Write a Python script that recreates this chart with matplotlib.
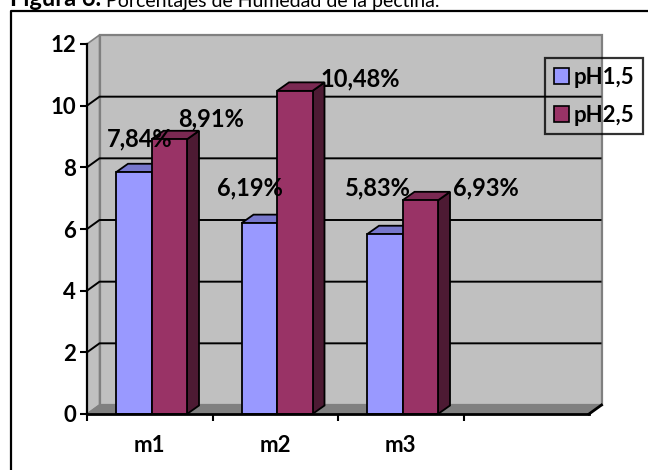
import matplotlib
matplotlib.use("Agg")
import matplotlib.pyplot as plt
from matplotlib.lines import Line2D
from matplotlib.patches import Patch, Polygon

categories = ["m1", "m2", "m3"]
series_names = ["pH1,5", "pH2,5"]
ph15 = [7.84, 6.19, 5.83]
ph25 = [8.91, 10.48, 6.93]
labels15 = ["7,84%", "6,19%", "5,83%"]
labels25 = ["8,91%", "10,48%", "6,93%"]
yticks = [0, 2, 4, 6, 8, 10, 12]

W, H = 648, 470
N_SLOTS = 4  # the original chart keeps an empty fourth category

plt.rcParams["font.family"] = ["Lato", "DejaVu Sans"]

fig = plt.figure(figsize=(W / 100, H / 100), dpi=100)
ax = fig.add_axes([87 / W, 1 - 414 / H, (589 - 87) / W, (414 - 44) / H])
ax.set_xlim(-0.5, N_SLOTS - 0.5)
ax.set_ylim(0, 12)
ax.patch.set_visible(False)

# pixel -> data conversion for the fake 3d depth
px_x = (589 - 87) / N_SLOTS
px_y = (414 - 44) / 12
wx, wy = 12.5 / px_x, 9 / px_y   # wall depth
bx, by = 12 / px_x, 8.5 / px_y   # bar depth
x0, x1 = -0.5, N_SLOTS - 0.5

wall = "#c0c0c0"
edge = "#808080"

# back wall, side wall, floor
ax.add_patch(Polygon([(x0 + wx, wy), (x1 + wx, wy), (x1 + wx, 12 + wy), (x0 + wx, 12 + wy)],
                     fc=wall, ec=edge, lw=1.6, zorder=0, clip_on=False))
ax.add_patch(Polygon([(x0, 0), (x0 + wx, wy), (x0 + wx, 12 + wy), (x0, 12)],
                     fc=wall, ec=edge, lw=1.2, zorder=0, clip_on=False))
ax.add_patch(Polygon([(x0, 0), (x1, 0), (x1 + wx, wy), (x0 + wx, wy)],
                     fc=edge, ec=edge, lw=1, zorder=0.5, clip_on=False))

for y in yticks[1:-1]:
    ax.plot([x0, x0 + wx, x1 + wx], [y, y + wy, y + wy], color="black", lw=1.4,
            zorder=1, clip_on=False, solid_capstyle="butt")

# bars
bw = 35.5 / px_x
off = 29 / px_x
faces = {
    "pH1,5": ("#9999ff", "#7777cc", "#4d4d80"),
    "pH2,5": ("#993366", "#7a2952", "#4d1a33"),
}


def bar3d(left, value, name, z):
    front, top, side = faces[name]
    right = left + bw
    ax.add_patch(Polygon([(right, 0), (right + bx, by), (right + bx, value + by), (right, value)],
                         fc=side, ec="black", lw=1.3, zorder=z, clip_on=False))
    ax.add_patch(Polygon([(left, value), (right, value), (right + bx, value + by), (left + bx, value + by)],
                         fc=top, ec="black", lw=1.3, zorder=z, clip_on=False))
    ax.bar(left, value, width=bw, align="edge", color=front, ec="black", lw=1.3, zorder=z + 0.1)


for i in range(len(categories)):
    left = i - 0.5 + off
    bar3d(left, ph15[i], "pH1,5", 2 + i)
    bar3d(left + bw, ph25[i], "pH2,5", 2.5 + i)

# value labels (Excel left them scattered around the bars), offsets in pixels
offsets15 = [(6, 33), (-9, 35), (-7, 46)]
offsets25 = [(42, 20), (65, 12), (66, 12)]
for i in range(len(categories)):
    c15 = i - 0.5 + off + bw / 2
    c25 = c15 + bw
    ax.annotate(labels15[i], (c15, ph15[i]), xytext=offsets15[i], textcoords="offset pixels",
                ha="center", va="center", fontsize=17, fontweight="bold", zorder=10)
    ax.annotate(labels25[i], (c25, ph25[i]), xytext=offsets25[i], textcoords="offset pixels",
                ha="center", va="center", fontsize=17, fontweight="bold", zorder=10)

# axes
for s in ["top", "right"]:
    ax.spines[s].set_visible(False)
ax.spines["left"].set_linewidth(1.6)
ax.spines["bottom"].set_linewidth(2)
ax.spines["left"].set_zorder(8)
ax.spines["bottom"].set_zorder(8)
ax.plot([x1, x1 + wx], [0, wy], color="black", lw=2, zorder=8, clip_on=False)

ax.set_yticks(yticks)
ax.set_yticklabels([str(v) for v in yticks], fontweight="bold")
ax.tick_params(axis="y", direction="out", length=5, width=1.5, pad=3, labelsize=16)

ax.set_xticks([i - 0.5 for i in range(N_SLOTS)])
ax.set_xticklabels([])
ax.set_xticks(range(len(categories)), minor=True)
ax.set_xticklabels(categories, minor=True, fontweight="bold")
ax.tick_params(axis="x", which="major", direction="out", length=5, width=1.5)
ax.tick_params(axis="x", which="minor", length=0, pad=15, labelsize=16)

# legend (no fill, sits over the wall edge)
handles = [Patch(fc=faces[n][0], ec="black", lw=1.2) for n in series_names]
leg = ax.legend(handles, series_names, loc="upper left", bbox_to_anchor=(545 / W, 1 - 58 / H),
                bbox_transform=fig.transFigure, borderaxespad=0, frameon=True, fancybox=False,
                prop={"size": 16, "weight": "bold"}, handlelength=0.7, handleheight=0.7,
                handletextpad=0.2, labelspacing=0.75, borderpad=0.4)
leg.get_frame().set_facecolor("none")
leg.get_frame().set_edgecolor("black")
leg.get_frame().set_linewidth(1.6)
leg.set_zorder(20)

# outer chart frame (right and bottom edges fall outside the picture)
fig.add_artist(Line2D([11 / W, 11 / W, 1], [0, 1 - 11 / H, 1 - 11 / H],
                      transform=fig.transFigure, color="black", lw=1.6))

# caption, cut off at the top of the picture as in the original
t1 = fig.text(10 / W, 1 - 6 / H, "Figura 6.", fontsize=17, fontweight="bold", va="baseline")
ax.annotate(" Porcentajes de Humedad de la pectina.", xy=(1, 0), xycoords=t1, va="bottom",
            fontsize=14, fontweight="normal", annotation_clip=False)

fig.savefig("out.png", dpi=100)
